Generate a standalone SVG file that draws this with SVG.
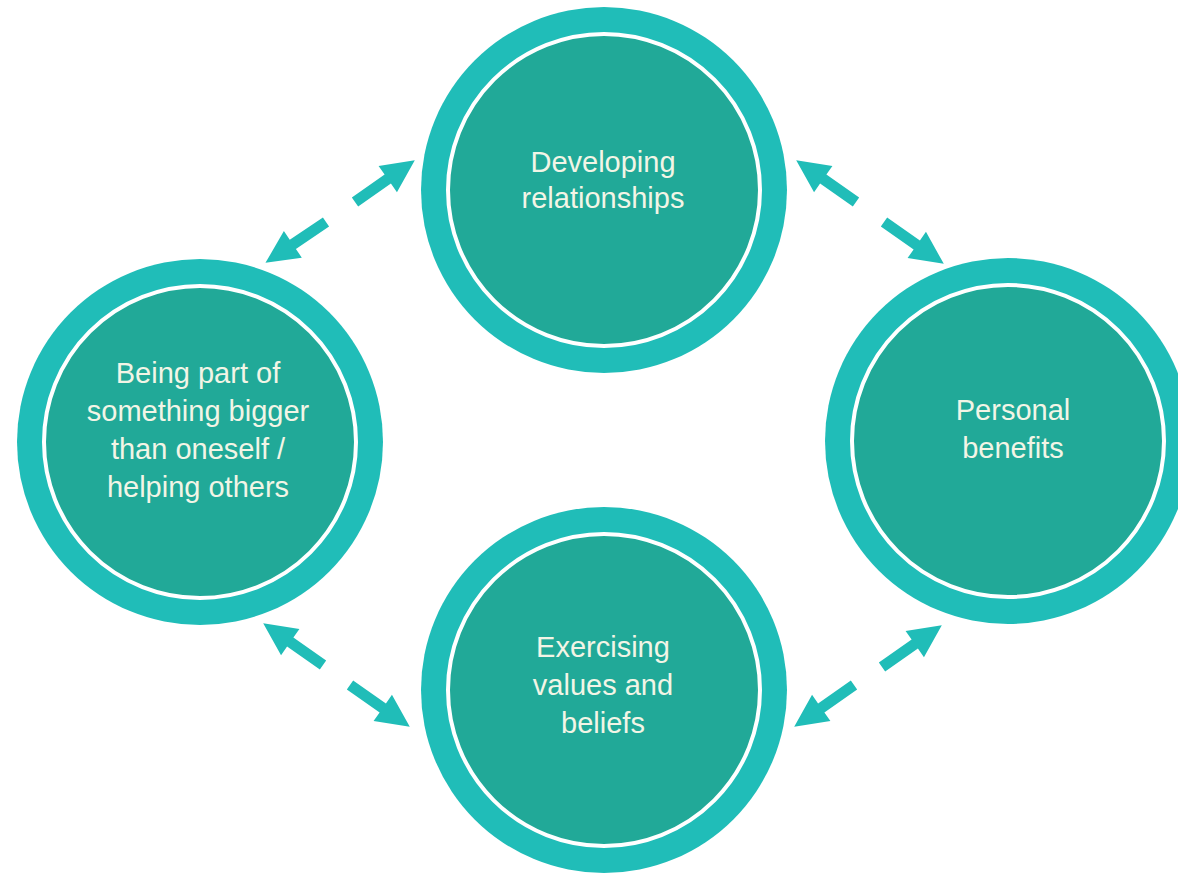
<svg xmlns="http://www.w3.org/2000/svg" width="1178" height="873" viewBox="0 0 1178 873">
<style>
.ring{fill:#20BDB8}
.band{fill:none;stroke:#FFFFFF;stroke-width:4}
.core{fill:#21A998}
.lbl{font-family:"Liberation Sans",Arial,sans-serif;font-size:29px;fill:#F2F5E6;text-anchor:middle}
.arr{fill:#20BDB8}
</style>
<defs>
<path id="arrow" d="M0,-5.5 H40 V-16 L73,0 L40,16 V5.5 H0 Z"/>
</defs>
<rect width="1178" height="873" fill="#FFFFFF"/>
<g id="node-developing">
<circle class="ring" cx="604" cy="190" r="183"/>
<circle class="core" cx="604" cy="190" r="156"/>
<circle class="band" cx="604" cy="190" r="156"/>
<text class="lbl" x="603" y="172">Developing</text>
<text class="lbl" x="603" y="208">relationships</text>
</g>
<g id="node-being-part">
<circle class="ring" cx="200" cy="442" r="183"/>
<circle class="core" cx="200" cy="442" r="156"/>
<circle class="band" cx="200" cy="442" r="156"/>
<text class="lbl" x="198" y="383">Being part of</text>
<text class="lbl" x="198" y="421">something bigger</text>
<text class="lbl" x="198" y="459">than oneself /</text>
<text class="lbl" x="198" y="497">helping others</text>
</g>
<g id="node-personal">
<circle class="ring" cx="1008" cy="441" r="183"/>
<circle class="core" cx="1008" cy="441" r="156"/>
<circle class="band" cx="1008" cy="441" r="156"/>
<text class="lbl" x="1013" y="420">Personal</text>
<text class="lbl" x="1013" y="458">benefits</text>
</g>
<g id="node-exercising">
<circle class="ring" cx="604" cy="690" r="183"/>
<circle class="core" cx="604" cy="690" r="156"/>
<circle class="band" cx="604" cy="690" r="156"/>
<text class="lbl" x="603" y="657">Exercising</text>
<text class="lbl" x="603" y="695">values and</text>
<text class="lbl" x="603" y="733">beliefs</text>
</g>
<g id="connectors" class="arr">
<use href="#arrow" transform="translate(355,202) rotate(-35)"/>
<use href="#arrow" transform="translate(326,222) rotate(146)"/>
<use href="#arrow" transform="translate(856,202) rotate(-145)"/>
<use href="#arrow" transform="translate(884,222) rotate(35)"/>
<use href="#arrow" transform="translate(323,665) rotate(-145)"/>
<use href="#arrow" transform="translate(350,685) rotate(35)"/>
<use href="#arrow" transform="translate(882,667) rotate(-35)"/>
<use href="#arrow" transform="translate(854,685) rotate(145)"/>
</g>
</svg>
